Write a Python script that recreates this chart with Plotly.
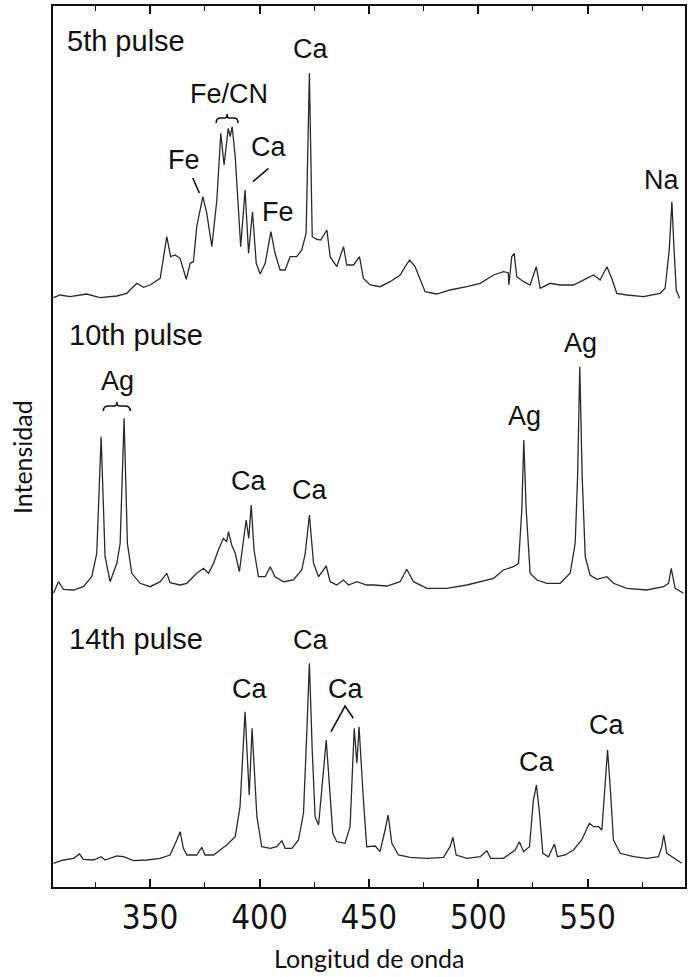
import plotly.graph_objects as go

# ---------------- data ----------------
wl_5th = [305.8, 308.9, 313.4, 321.0, 327.1, 334.8, 339.3, 343.9, 347.0, 350.0, 354.6, 357.6,
          359.4, 361.4, 363.7, 366.5, 368.3, 369.8, 371.3, 374.1, 375.9, 378.2, 380.5, 382.3,
          383.8, 385.7, 386.6, 387.5, 388.9, 390.4, 391.4, 393.4, 395.0, 396.8, 398.5, 400.3,
          402.6, 405.2, 407.1, 409.4, 411.7, 414.0, 417.0, 419.3, 421.3, 422.8, 424.1, 426.2,
          428.0, 430.8, 432.3, 435.3, 438.4, 439.9, 443.0, 445.7, 447.5, 450.6, 455.1, 459.7,
          464.3, 466.6, 468.6, 471.1, 473.4, 475.7, 481.0, 487.1, 494.8, 500.9, 507.0, 511.5,
          513.7, 514.0, 515.3, 516.4, 517.6, 520.7, 523.7, 526.5, 528.3, 532.9, 537.4, 543.5,
          549.6, 552.7, 555.7, 558.8, 561.0, 563.3, 567.9, 575.5, 583.1, 585.4, 587.3, 588.5,
          589.5, 590.5, 592.0]
int_5th = [-0.7, 2, 0.3, 3, -0.7, 1, 3.7, 13.7, 9.7, 12, 18.7, 60.3,
           40.3, 42, 38.7, 17.7, 33.7, 35.3, 70.3, 100.3, 83.7, 50.3, 97, 163.7,
           132, 168.7, 160.3, 170.3, 140.3, 80.3, 50.3, 107, 43.7, 85.3, 33.7, 23,
           33.7, 65.3, 43.7, 27, 27, 40.3, 40.3, 47, 63.7, 223.7, 60.3, 57.7,
           57, 67, 40.3, 30.3, 50.3, 32, 32, 40.3, 18.5, 12, 10.3, 15.3,
           22, 30.3, 37, 30.3, 17, 5.3, 3, 7, 10.3, 13.7, 22, 25.3,
           24.3, 12, 40.3, 43.7, 20.3, 15.3, 12, 30.3, 8.7, 13.7, 12, 12,
           18.7, 22, 17, 30.3, 18.7, 3.7, 2, 0.3, 3.7, 8.7, 47, 95.3,
           47, 7, -1.3]

wl_10th = [305.8, 308.1, 310.4, 315.0, 319.5, 323.3, 325.6, 327.6, 329.4, 331.7, 334.8, 336.3,
           338.1, 339.6, 341.6, 345.4, 350.0, 354.6, 357.6, 359.1, 363.7, 366.8, 371.3, 374.4,
           376.7, 379.0, 381.2, 383.5, 385.0, 385.8, 387.3, 388.9, 390.8, 392.7, 393.9, 395.1,
           396.2, 397.5, 399.5, 402.6, 404.9, 407.1, 411.0, 415.5, 419.3, 420.9, 422.8, 424.7,
           427.0, 430.5, 432.3, 435.3, 438.4, 440.7, 444.5, 449.0, 452.1, 458.2, 464.3, 467.3,
           470.4, 476.5, 485.6, 494.8, 500.9, 507.0, 511.5, 516.1, 518.4, 519.9, 520.8, 521.9,
           523.7, 526.8, 531.3, 537.4, 542.0, 544.3, 545.4, 546.4, 547.5, 548.9, 551.1, 554.2,
           558.8, 561.8, 567.9, 577.0, 584.7, 587.0, 588.2, 590.0, 593.8]
int_10th = [-3.3, 8.3, 0.7, 0, 3.3, 13.3, 36.7, 153.3, 33.3, 8.3, 26.7, 46.7,
            171.7, 46.7, 16.7, 6.7, 3.3, 8.3, 16.7, 7.3, 5, 6.7, 16.7, 21.7,
            16.7, 26.7, 40, 51.7, 48.3, 58.3, 45, 36.7, 18.3, 53.3, 70, 51.7,
            85, 40, 13.3, 13.3, 23.3, 13.3, 8.3, 10, 20, 36.7, 75, 26.7,
            13.3, 24, 8.3, 5, 10, 5, 8.3, 5, 5, 4, 8.3, 20.7,
            8.3, 1.7, 1.7, 5, 8.3, 11.7, 20, 23.3, 26.7, 80, 150, 80,
            16.7, 10, 6.7, 6.7, 16.7, 46.7, 113.3, 223.3, 113.3, 33.3, 15, 10.7,
            13.3, 6.7, 1.7, 0, 3.3, 6.7, 21.7, 1.7, -3.3]

wl_14th = [305.8, 310.4, 315.0, 317.7, 319.5, 324.1, 327.6, 329.4, 334.8, 337.8, 342.4, 348.5,
           354.6, 359.1, 362.2, 363.7, 365.2, 366.8, 371.3, 373.6, 375.1, 379.0, 382.0, 385.0,
           388.9, 391.1, 393.4, 395.3, 396.6, 398.8, 401.0, 404.9, 407.9, 410.2, 411.7, 414.8,
           417.8, 420.1, 421.6, 422.8, 424.1, 425.4, 427.0, 428.5, 430.5, 432.0, 433.5, 435.3,
           439.1, 441.4, 443.3, 444.5, 445.5, 447.5, 449.0, 452.9, 455.1, 457.4, 458.8, 460.5,
           463.5, 468.9, 476.5, 484.1, 487.1, 488.4, 489.9, 494.8, 500.9, 503.9, 505.7, 511.5,
           516.9, 518.8, 520.7, 523.4, 525.2, 526.6, 528.0, 529.5, 532.1, 534.8, 536.2, 539.7,
           543.5, 547.3, 549.6, 550.8, 552.7, 555.0, 556.5, 558.0, 559.1, 560.3, 561.8, 564.9,
           571.0, 577.0, 582.4, 583.9, 584.8, 586.2, 588.5, 593.0]
int_14th = [-0.3, 3, 4.7, 9, 3.7, 3, 6.3, 3, 7, 6.3, 2.3, 3,
            4.7, 8, 23, 31.3, 14.7, 8, 8, 15.7, 8, 8, 13, 18,
            26.3, 56.3, 151.3, 68, 134.7, 46.3, 16.3, 14.7, 16.3, 22.3, 14.7, 14.7,
            23, 49.7, 129.7, 199.7, 113, 46.3, 38, 76.3, 123, 76.3, 29.7, 21.3,
            19.7, 36.3, 134.7, 99.7, 136.3, 63, 16.3, 17, 11.3, 33, 48, 19.7,
            8, 5.7, 4.7, 5.7, 16.3, 25.7, 8, 4.7, 6.3, 12.3, 4.7, 4.7,
            13, 21.3, 11.3, 16.3, 63, 78, 49.7, 9.7, 6.3, 19, 6.3, 8,
            13, 23, 33, 39.7, 36.3, 36.3, 33, 76.3, 113, 76.3, 23, 9.7,
            6.3, 4.7, 6.3, 16.3, 28, 9.7, 6.3, -0.3]

spectra = [("5th pulse", wl_5th, int_5th), ("10th pulse", wl_10th, int_10th), ("14th pulse", wl_14th, int_14th)]
offsets = [590, 297, 24]

# ---------------- figure ----------------
fig = go.Figure()
for (name, wl, it), off in zip(spectra, offsets):
    fig.add_trace(go.Scatter(x=wl, y=[v + off for v in it], mode="lines", name=name,
                             line=dict(color="#2a2a2a", width=1.3), showlegend=False,
                             hoverinfo="skip"))

EFONT = dict(family="Liberation Sans, Arial, sans-serif", size=27, color="#111111")
PFONT = dict(family="Liberation Sans, Arial, sans-serif", size=29, color="#111111")

labels = [
    # text, x (nm), y, xanchor
    ("5th pulse", 311.0, 846, "left"),
    ("Ca", 423.1, 838, "center"),
    ("Fe/CN", 386.1, 793, "center"),
    ("Fe", 365.3, 727, "center"),
    ("Ca", 404.2, 740, "center"),
    ("Fe", 408.3, 675.5, "center"),
    ("Na", 583.6, 707, "center"),
    ("10th pulse", 312.0, 552, "left"),
    ("Ag", 335.1, 506, "center"),
    ("Ca", 394.8, 406, "center"),
    ("Ca", 422.7, 397, "center"),
    ("Ag", 521.2, 471, "center"),
    ("Ag", 546.6, 544, "center"),
    ("14th pulse", 312.0, 248, "left"),
    ("Ca", 395.4, 198, "center"),
    ("Ca", 423.1, 247, "center"),
    ("Ca", 439.4, 198, "center"),
    ("Ca", 526.5, 125, "center"),
    ("Ca", 558.5, 162, "center"),
]
annotations = []
for t, x, y, xa in labels:
    annotations.append(dict(text=t, x=x, y=y, xref="x", yref="y", xanchor=xa, yanchor="middle",
                            showarrow=False, font=PFONT if "pulse" in t else EFONT))

TFONT = dict(family="Lato, Noto Sans, sans-serif", size=25, color="#111111")
annotations.append(dict(text="Longitud de onda", x=0.5, y=-0.081, xref="paper", yref="paper",
                        xanchor="center", yanchor="middle", showarrow=False, font=TFONT))
annotations.append(dict(text="Intensidad", x=-0.049, y=0.488, xref="paper", yref="paper",
                        xanchor="center", yanchor="middle", showarrow=False, font=TFONT,
                        textangle=-90))

lc = dict(color="#111111", width=1.6)
shapes = [
    # brace over Fe/CN
    dict(type="path", xref="x", yref="y", line=lc,
         path="M 380.2,764 Q 380.2,769 382.2,769 L 384.2,769 Q 385.2,769 385.2,773 "
              "Q 385.2,769 386.2,769 L 388.2,769 Q 390.2,769 390.2,764"),
    # brace over Ag pair
    dict(type="path", xref="x", yref="y", line=lc,
         path="M 328.6,476 Q 328.6,481 331.0,481 L 333.6,481 Q 334.8,481 334.8,485 "
              "Q 334.8,481 336.0,481 L 338.5,481 Q 340.9,481 340.9,476"),
    dict(type="line", xref="x", yref="y", x0=369.5, y0=709, x1=372.5, y1=694, line=lc),
    dict(type="line", xref="x", yref="y", x0=404.1, y0=718.7, x1=397.0, y1=705.3, line=lc),
    dict(type="path", xref="x", yref="y", line=lc,
         path="M 432.7,155.3 L 439.1,181 L 442.9,168.7"),
]

fig.update_layout(
    width=691, height=977,
    margin=dict(l=53, r=6, t=6, b=90),
    paper_bgcolor="white", plot_bgcolor="white",
    annotations=annotations, shapes=shapes,
    xaxis=dict(range=[305.6, 594.5], tickmode="linear", tick0=350, dtick=50,
               ticks="inside", ticklen=8, tickwidth=1.5, tickcolor="#111111",
               showline=True, linewidth=2, linecolor="#111111", mirror="ticks",
               showgrid=False, zeroline=False, automargin=False,
               tickfont=dict(family="Liberation Sans Narrow, DejaVu Sans Condensed, Arial Narrow, sans-serif",
                             size=33, color="#111111"),
               minor=dict(ticks="inside", ticklen=5, tickwidth=1.2, tickcolor="#111111",
                          tick0=325, dtick=25, showgrid=False)),
    yaxis=dict(range=[0, 881], showticklabels=False, ticks="", showline=True, linewidth=2,
               linecolor="#111111", mirror=True, showgrid=False, zeroline=False, automargin=False),
)

fig.write_html("out.html", config={"displayModeBar": False},
               post_script="document.body.style.margin='0px';document.body.style.padding='0px';")
